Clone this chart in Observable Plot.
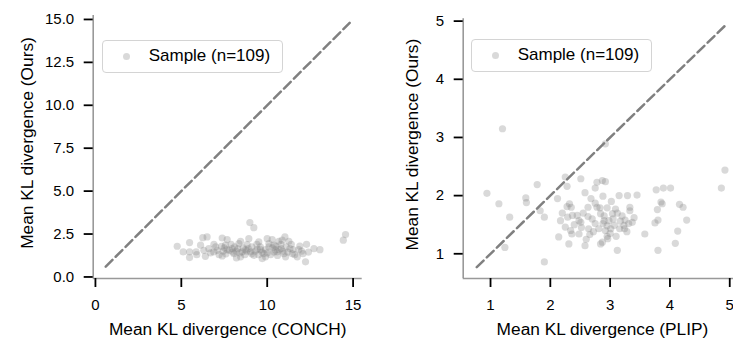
<!DOCTYPE html>
<html><head><meta charset="utf-8">
<script src="https://cdn.jsdelivr.net/npm/d3@7"></script>
<script src="https://cdn.jsdelivr.net/npm/@observablehq/plot@0.6"></script>
<style>
html,body{margin:0;padding:0;background:#fff;}
#wrap{position:relative;width:733px;height:343px;overflow:hidden;font-family:"Liberation Sans",Arial,sans-serif;}
#wrap svg{position:absolute;top:0;max-width:none;overflow:visible;}
.legend{position:absolute;box-sizing:border-box;width:181px;height:33px;border:1.5px solid #d4d4d4;border-radius:4px;background:rgba(255,255,255,0.8);font-size:17px;color:#000;}
.legend .dot{position:absolute;left:20px;top:12px;width:7px;height:7px;border-radius:50%;background:rgba(128,128,128,0.3);}
.legend .txt{position:absolute;left:46px;top:5px;white-space:nowrap;}
</style></head>
<body><div id="wrap"></div>
<script>
// Left panel: CONCH (x) vs Ours (y)
const conchX = [4.76,5.11,5.48,5.48,5.48,5.86,6.12,6.25,6.50,6.31,6.60,6.89,7.09,7.38,7.67,7.34,7.44,7.57,7.67,7.38,7.96,8.06,8.21,8.35,8.45,8.29,8.54,8.74,8.45,8.83,8.93,8.99,9.22,9.03,9.22,9.42,9.51,9.61,9.80,10.0,10.1,9.90,9.71,10.29,10.39,10.48,10.68,10.58,10.87,11.03,10.81,10.97,11.26,11.32,11.46,11.07,11.75,11.84,12.08,12.23,12.29,12.72,13.07,14.43,14.56,
  5.9,6.4,6.7,7.0,7.2,7.5,7.6,7.8,7.9,8.0,8.1,8.2,8.4,8.6,8.7,8.8,8.9,9.1,9.1,9.3,9.4,9.5,9.6,9.7,9.9,10.0,10.1,10.2,10.3,10.4,10.5,10.6,10.7,10.8,10.9,11.1,11.2,11.4,11.5,11.6,11.9,12.0,12.4,6.9];
const conchOursY = [1.79,1.46,2.00,1.46,1.13,1.46,1.85,2.29,2.33,1.55,1.65,1.46,1.55,2.27,2.18,1.79,1.50,1.85,1.59,1.22,1.65,1.36,1.11,1.94,2.08,1.65,1.46,1.59,1.17,1.88,2.23,3.17,2.87,1.46,1.26,1.61,2.04,1.59,1.36,2.23,1.75,1.17,1.07,2.18,1.85,1.59,2.08,1.46,2.14,2.33,1.65,1.36,2.08,1.65,1.36,1.17,1.17,1.59,1.36,0.88,1.90,1.65,1.59,2.14,2.47,
  1.3,1.2,1.4,1.75,1.3,1.7,1.35,1.55,1.9,1.45,1.75,1.5,1.4,1.7,1.3,1.5,1.65,1.75,1.35,1.5,1.9,1.3,1.75,1.45,1.6,1.4,1.95,1.3,1.7,1.45,1.8,1.25,1.6,1.9,1.5,1.75,1.45,1.9,1.6,1.3,1.8,1.5,1.45,1.9];

// Right panel: PLIP (x) vs Ours (y)
const plipX = [1.20,0.94,1.14,1.24,1.32,1.59,1.60,1.78,1.83,1.90,1.90,2.12,2.14,2.17,2.25,2.28,2.28,2.32,2.25,2.29,2.31,2.34,2.37,2.45,2.48,2.51,2.48,2.51,2.58,2.63,2.63,2.64,2.66,2.75,2.75,2.75,2.78,2.81,2.83,2.84,2.84,2.87,2.88,2.90,2.92,2.92,2.87,2.92,2.95,2.95,2.96,2.98,3.01,3.04,3.09,3.07,3.12,3.15,3.16,3.17,3.23,3.24,3.29,3.31,3.33,3.33,3.37,3.45,3.58,3.75,3.77,3.79,3.80,3.80,3.85,3.87,3.89,4.01,4.09,4.13,4.16,4.22,4.28,4.86,4.92,2.36,
  2.40,2.55,2.60,2.70,2.72,2.78,2.90,2.95,3.00,3.05,3.10,3.12,3.20,3.25,3.28,2.52,2.68,2.58,3.02,2.20,3.40,2.88,2.35];
const plipOursY = [3.15,2.04,1.86,1.11,1.63,1.96,1.88,2.19,1.74,1.63,0.86,1.95,1.29,1.57,2.32,2.16,1.81,1.86,1.46,1.63,1.17,1.40,1.66,1.66,1.57,2.29,1.34,1.54,1.14,1.80,1.64,1.43,1.33,2.13,1.87,1.52,2.23,1.43,1.79,1.69,1.17,2.26,1.99,1.57,2.24,2.89,1.20,1.40,1.79,1.30,1.26,1.57,1.43,1.69,1.77,1.49,1.06,2.00,1.43,1.56,1.49,1.43,2.00,1.52,1.74,1.80,1.54,2.01,1.34,1.53,2.10,1.76,1.58,1.06,1.89,1.86,2.13,2.13,1.18,1.39,1.85,1.80,1.58,2.13,2.44,1.34,
  1.50,1.70,1.25,1.60,1.38,1.80,1.65,1.48,1.35,1.60,1.30,1.70,1.65,1.58,1.38,1.45,1.95,2.05,1.90,1.70,1.62,1.52,1.80];

const leftXTicks = [0, 5, 10, 15];
const leftYTicks = [0, 2.5, 5, 7.5, 10, 12.5, 15];
const rightXTicks = [1, 2, 3, 4, 5];
const rightYTicks = [1, 2, 3, 4, 5];
const leftDiag = [0.6, 14.8];
const rightDiag = [0.77, 4.92];
const legendText = "Sample (n=109)";

function panel(o) {
  const data = o.xs.map((x, i) => ({x, y: o.ys[i]}));
  const svg = Plot.plot({
    width: o.width, height: 343,
    marginLeft: o.ml, marginRight: o.mr, marginTop: o.mt, marginBottom: o.mb,
    style: {background: "transparent", fontFamily: "Liberation Sans, Arial, sans-serif", overflow: "visible", color: "#000"},
    x: {domain: o.xDomain},
    y: {domain: o.yDomain},
    marks: [
      Plot.ruleX([o.xDomain[0]], {stroke: "#999", strokeWidth: 1.6}),
      Plot.ruleY([o.yDomain[0]], {stroke: "#999", strokeWidth: 1.6}),
      Plot.axisX(o.xTicks, {tickSize: 9, tickPadding: 12, fontSize: 15, color: "#000", strokeWidth: 1.8, label: null}),
      Plot.axisY(o.yTicks, {tickSize: 9, tickPadding: 10, fontSize: 15, color: "#000", strokeWidth: 1.8, label: null, tickFormat: o.yFormat}),
      Plot.line(o.diag.map(v => ({x: v, y: v})), {x: "x", y: "y", stroke: "#808080", strokeWidth: 2.5, strokeDasharray: "9.5,4.5"}),
      Plot.dot(data, {x: "x", y: "y", r: 3.6, fill: "#808080", fillOpacity: 0.3, stroke: "none"}),
      Plot.text([o.xLabel], {frameAnchor: "bottom", dy: 56, fontSize: 17.3, fill: "#000", textAnchor: "middle", text: d => d}),
      Plot.text([o.yLabel], {frameAnchor: "left", dx: o.yDx, dy: -4, rotate: -90, fontSize: 17.3, fill: "#000", textAnchor: "middle", text: d => d})
    ]
  });
  svg.style.left = o.left + "px";
  return svg;
}

const wrap = document.getElementById("wrap");
wrap.appendChild(panel({
  xs: conchX, ys: conchOursY, left: 0, width: 380, ml: 92.7, mr: 18.3, mt: 15, mb: 65,
  xDomain: [-0.13, 15.53], yDomain: [-0.09, 15.23],
  xTicks: leftXTicks, yTicks: leftYTicks, yFormat: d3.format(".1f"),
  diag: leftDiag, xLabel: "Mean KL divergence (CONCH)", yLabel: "Mean KL divergence (Ours)", yDx: -66
}));
wrap.appendChild(panel({
  xs: plipX, ys: plipOursY, left: 380, width: 400, ml: 82.7, mr: 38.8, mt: 18.3, mb: 65,
  xDomain: [0.543, 5.2], yDomain: [0.575, 5.04],
  xTicks: rightXTicks, yTicks: rightYTicks, yFormat: d3.format("d"),
  diag: rightDiag, xLabel: "Mean KL divergence (PLIP)", yLabel: "Mean KL divergence (Ours)", yDx: -51
}));

function legend(left, top) {
  const d = document.createElement("div");
  d.className = "legend";
  d.style.left = left + "px";
  d.style.top = top + "px";
  d.innerHTML = '<div class="dot"></div><div class="txt"></div>';
  d.querySelector(".txt").textContent = legendText;
  wrap.appendChild(d);
}
legend(101.7, 40);
legend(470.7, 39.3);
</script>
</body></html>
